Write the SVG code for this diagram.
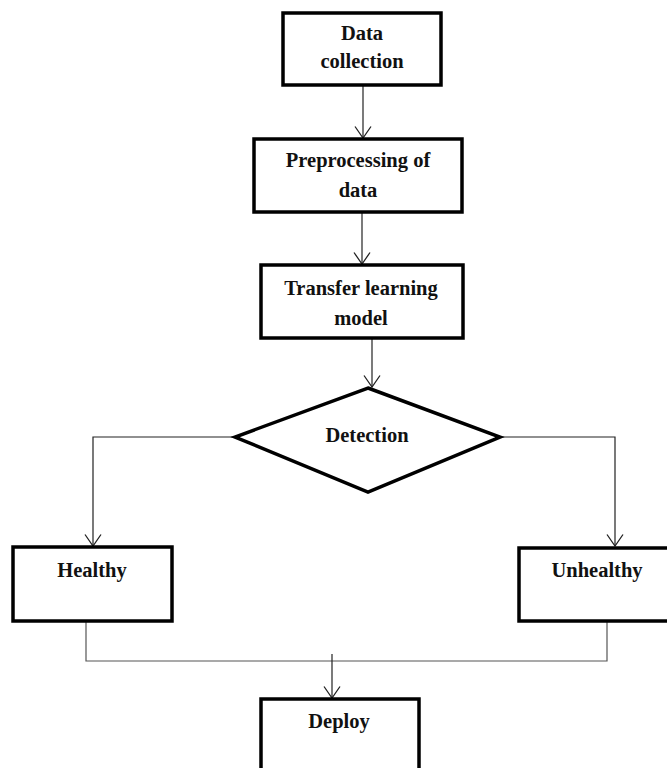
<svg xmlns="http://www.w3.org/2000/svg" width="667" height="768" viewBox="0 0 667 768">
<defs>
<style>
.box{fill:#fff;stroke:#000;stroke-width:3.5}
.conn{fill:none;stroke:#222;stroke-width:1.2}
.lbl{font-family:"Liberation Serif","Times New Roman",serif;font-weight:bold;font-size:20.5px;fill:#111;text-anchor:middle}
</style>
<marker id="arr" markerUnits="userSpaceOnUse" viewBox="0 0 13 18" refX="12" refY="9" markerWidth="13" markerHeight="18" orient="auto">
<path d="M0.5,1 L12,9 L0.5,17" fill="none" stroke="#222" stroke-width="1.3"/>
</marker>
</defs>
<rect width="667" height="768" fill="#fff"/>
<g id="connectors">
<line class="conn" x1="363" y1="85" x2="363" y2="138" marker-end="url(#arr)"/>
<line class="conn" x1="362" y1="212" x2="362" y2="264" marker-end="url(#arr)"/>
<line class="conn" x1="372" y1="338" x2="372" y2="387" marker-end="url(#arr)"/>
<polyline class="conn" points="235,437 93,437 93,546" marker-end="url(#arr)"/>
<polyline class="conn" points="500,437 615,437 615,546" marker-end="url(#arr)"/>
<polyline class="conn" points="86,621 86,661 607,661 607,621" style="stroke:#555"/>
<line class="conn" x1="332" y1="654" x2="332" y2="698" marker-end="url(#arr)"/>
</g>
<g id="data-collection">
<rect class="box" x="283" y="13" width="158" height="72"/>
<text class="lbl" x="362" y="40">Data</text>
<text class="lbl" x="362" y="68">collection</text>
</g>
<g id="preprocessing">
<rect class="box" x="254" y="139" width="208" height="73"/>
<text class="lbl" x="358" y="167">Preprocessing of</text>
<text class="lbl" x="358" y="197">data</text>
</g>
<g id="transfer-learning">
<rect class="box" x="261" y="265" width="202" height="73"/>
<text class="lbl" x="361" y="295">Transfer learning</text>
<text class="lbl" x="361" y="325">model</text>
</g>
<g id="detection">
<polygon class="box" points="368,388 500,437 368,492 235,437"/>
<text class="lbl" x="367" y="442">Detection</text>
</g>
<g id="healthy">
<rect class="box" x="13" y="547" width="159" height="74"/>
<text class="lbl" x="92" y="577">Healthy</text>
</g>
<g id="unhealthy">
<rect class="box" x="519" y="548" width="160" height="73"/>
<text class="lbl" x="597" y="577">Unhealthy</text>
</g>
<g id="deploy">
<rect class="box" x="261" y="699" width="158" height="80"/>
<text class="lbl" x="339" y="728">Deploy</text>
</g>
</svg>
